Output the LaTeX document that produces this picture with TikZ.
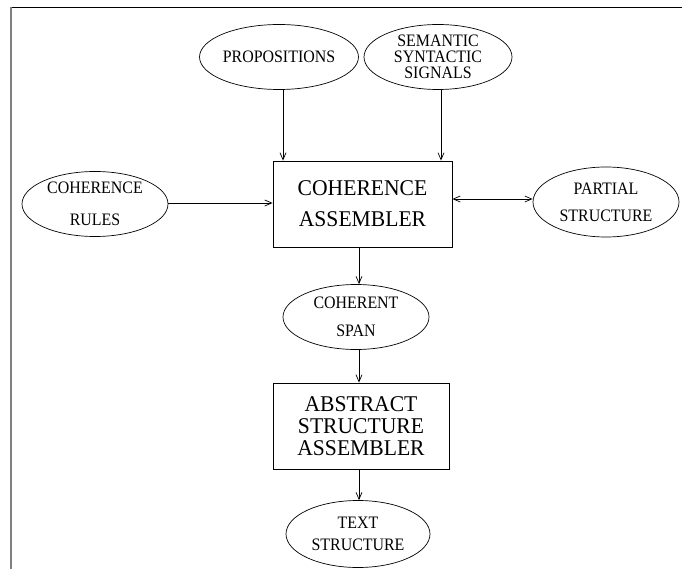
\documentclass[tikz,border=0pt]{standalone}
\usepackage{fontspec}
\setmainfont{Liberation Serif}
\newfontfamily\ellfont[FakeStretch=0.91]{Liberation Serif}
\newfontfamily\boxfont[FakeStretch=0.96]{Liberation Serif}
\usetikzlibrary{shapes.geometric,arrows.meta}
\begin{document}
\begin{tikzpicture}[x=1pt,y=-1pt,
  ell/.style={draw,ellipse,inner sep=0pt,minimum width=146pt,minimum height=65pt,
    align=center,line width=0.7pt,font=\ellfont\fontsize{17.5}{#1}\selectfont},
  boxst/.style={draw,rectangle,inner sep=0pt,minimum width=179pt,minimum height=86pt,
    align=center,line width=0.8pt,font=\boxfont\fontsize{22.5}{#1}\selectfont},
  arr/.style={line width=0.7pt,-{Straight Barb[length=7pt,width=6pt]}},
  darr/.style={line width=0.7pt,{Straight Barb[length=7pt,width=6pt]}-{Straight Barb[length=7pt,width=6pt]}}
]
\useasboundingbox (0,0) rectangle (682,569);
% frame
\draw[line width=0.9pt] (10,7) -- (682,7);
\draw[gray,line width=1.6pt] (11,7) -- (11,569);

\node[ell=16,minimum width=148pt] (prop) at (279,57) {PROPOSITIONS};
\node[ell=16,minimum width=148pt] (sem) at (438,57) {SEMANTIC\\SYNTACTIC\\SIGNALS};
\node[boxst=31] (cass) at (362.5,204) {COHERENCE\\ASSEMBLER};
\node[ell=32] (rules) at (95,204) {COHERENCE\\RULES};
\node[ell=27,minimum height=70pt] (part) at (606,202) {PARTIAL\\STRUCTURE};
\node[ell=28] (span) at (356,317) {COHERENT\\SPAN};
\node[boxst=22,minimum width=176pt] (abs) at (361,426) {ABSTRACT\\STRUCTURE\\ASSEMBLER};
\node[ell=22,minimum width=144pt,minimum height=67pt] (text) at (358,534) {TEXT\\STRUCTURE};

\draw[arr] ([xshift=4pt]prop.south) -- ([xshift=4pt]prop.south |- cass.north);
\draw[arr] ([xshift=3pt]sem.south) -- ([xshift=3pt]sem.south |- cass.north);
\draw[arr] ([yshift=1pt]rules.east) -- ([yshift=1pt]rules.east -| cass.west);
\draw[darr] ([yshift=3pt]part.west -| cass.east) -- ([yshift=3pt]part.west);
\draw[arr] ([xshift=-3.5pt]cass.south) -- ([xshift=-3.5pt]cass.south |- span.north);
\draw[arr] ([xshift=3pt]span.south) -- ([xshift=3pt]span.south |- abs.north);
\draw[arr] ([xshift=-2pt]abs.south) -- ([xshift=-2pt]abs.south |- text.north);
\end{tikzpicture}
\end{document}
